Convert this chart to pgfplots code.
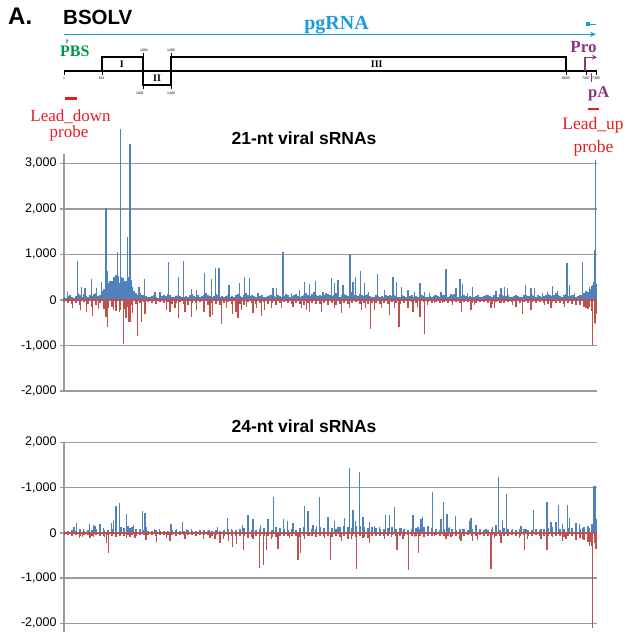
\documentclass[border=0pt]{standalone}
\usepackage{pgfplots}
\pgfplotsset{compat=1.18}
\usepackage{pgfplotstable}
\usepackage{fontspec}
\setmainfont{Liberation Serif}
\setsansfont{Liberation Sans}
\usetikzlibrary{arrows.meta}
\definecolor{sblue}{RGB}{79,129,189}
\definecolor{sred}{RGB}{192,80,77}
\definecolor{gridc}{RGB}{155,155,155}
\definecolor{pgblue}{RGB}{27,154,222}
\definecolor{pbsgreen}{RGB}{0,150,70}
\definecolor{propurple}{RGB}{140,55,125}
\definecolor{probered}{RGB}{230,30,36}

% background levels, chart 1 (21-nt), blue every 2 bins
\pgfplotstableread[row sep=\\]{y\\
60\\40\\90\\120\\70\\50\\80\\150\\100\\60\\130\\90\\70\\110\\80\\140\\160\\90\\120\\200\\
250\\300\\380\\420\\350\\500\\450\\520\\380\\460\\300\\420\\500\\350\\280\\200\\160\\120\\150\\100\\
120\\90\\70\\60\\80\\100\\70\\50\\60\\90\\110\\80\\130\\100\\70\\60\\90\\120\\80\\60\\
70\\90\\60\\110\\140\\80\\60\\100\\70\\90\\120\\150\\100\\80\\60\\90\\130\\110\\70\\90\\
60\\80\\110\\70\\90\\60\\100\\140\\90\\70\\120\\160\\100\\80\\110\\90\\70\\60\\80\\100\\
70\\60\\80\\100\\120\\90\\70\\100\\80\\60\\90\\130\\110\\70\\80\\100\\140\\90\\60\\80\\
100\\150\\120\\90\\130\\170\\110\\80\\100\\90\\120\\160\\130\\100\\80\\110\\150\\90\\70\\100\\
130\\110\\90\\150\\180\\120\\100\\90\\140\\110\\80\\100\\130\\90\\60\\70\\100\\80\\60\\90\\
70\\100\\90\\110\\80\\120\\90\\70\\60\\100\\80\\70\\60\\90\\110\\70\\80\\60\\90\\100\\
80\\60\\70\\90\\60\\80\\110\\90\\70\\100\\120\\80\\60\\90\\110\\130\\90\\70\\60\\80\\
100\\80\\60\\90\\70\\60\\80\\100\\70\\60\\90\\120\\110\\80\\60\\100\\90\\70\\130\\100\\
80\\90\\110\\70\\60\\80\\100\\90\\70\\60\\100\\120\\90\\80\\110\\90\\70\\100\\80\\60\\
90\\110\\130\\100\\80\\120\\150\\110\\90\\70\\100\\130\\90\\80\\110\\100\\70\\90\\120\\100\\
150\\200\\180\\250\\300\\400\\350\\
}\bgAblue
% chart 1 red, every 4 bins
\pgfplotstableread[row sep=\\]{y\\
-40\\-60\\-90\\-70\\-120\\-50\\-80\\-150\\-100\\-70\\-200\\-180\\-150\\-250\\-220\\-200\\-160\\-120\\-90\\-60\\
-50\\-40\\-60\\-80\\-50\\-70\\-40\\-90\\-60\\-50\\-80\\-100\\-60\\-70\\-50\\-90\\-110\\-60\\-80\\-100\\
-70\\-50\\-90\\-60\\-80\\-100\\-50\\-70\\-90\\-60\\-40\\-80\\-60\\-100\\-70\\-50\\-60\\-90\\-70\\-80\\
-100\\-70\\-60\\-80\\-90\\-60\\-50\\-70\\-100\\-80\\-60\\-90\\-70\\-50\\-80\\-60\\-90\\-70\\-60\\-80\\
-60\\-80\\-50\\-70\\-90\\-60\\-40\\-50\\-70\\-60\\-50\\-40\\-60\\-50\\-70\\-40\\-60\\-50\\-40\\-60\\
-50\\-40\\-60\\-70\\-50\\-40\\-60\\-80\\-50\\-70\\-60\\-40\\-50\\-80\\-60\\-50\\-70\\-40\\-60\\-50\\
-60\\-80\\-50\\-70\\-60\\-90\\-70\\-80\\-100\\-120\\-150\\-200\\-250\\-300\\
}\bgAred
% chart 2 (24-nt) blue, every 4 bins
\pgfplotstableread[row sep=\\]{y\\
40\\30\\60\\50\\80\\40\\70\\60\\90\\50\\70\\60\\80\\100\\120\\100\\150\\120\\90\\80\\
60\\50\\40\\60\\50\\40\\50\\70\\60\\40\\50\\60\\40\\50\\60\\70\\40\\50\\60\\40\\
60\\80\\70\\60\\90\\100\\80\\70\\60\\80\\100\\90\\70\\120\\100\\80\\60\\90\\70\\110\\
130\\100\\90\\80\\120\\110\\90\\100\\80\\120\\150\\130\\110\\140\\160\\120\\100\\130\\110\\90\\
80\\100\\120\\90\\110\\80\\70\\90\\100\\80\\120\\140\\100\\80\\70\\90\\100\\80\\70\\90\\
80\\70\\90\\100\\80\\60\\70\\90\\80\\70\\100\\80\\60\\70\\90\\80\\70\\60\\80\\70\\
90\\100\\120\\100\\80\\90\\110\\100\\80\\90\\120\\150\\200\\250\\
}\bgBblue
% chart 2 red, every 4 bins
\pgfplotstableread[row sep=\\]{y\\
-40\\-50\\-60\\-40\\-70\\-50\\-40\\-60\\-50\\-70\\-60\\-40\\-80\\-100\\-70\\-60\\-50\\-40\\-60\\-50\\
-40\\-50\\-40\\-60\\-50\\-40\\-50\\-40\\-60\\-50\\-40\\-50\\-40\\-60\\-40\\-50\\-40\\-60\\-50\\-40\\
-60\\-50\\-70\\-60\\-80\\-60\\-70\\-90\\-60\\-80\\-70\\-60\\-90\\-100\\-70\\-60\\-80\\-70\\-60\\-90\\
-80\\-70\\-60\\-90\\-80\\-60\\-70\\-100\\-80\\-90\\-70\\-60\\-80\\-100\\-70\\-90\\-110\\-80\\-60\\-70\\
-60\\-70\\-50\\-60\\-80\\-60\\-50\\-70\\-60\\-80\\-90\\-70\\-60\\-50\\-70\\-60\\-80\\-70\\-60\\-50\\
-60\\-50\\-70\\-60\\-50\\-60\\-70\\-50\\-60\\-70\\-80\\-60\\-50\\-70\\-60\\-50\\-70\\-60\\-50\\-70\\
-60\\-70\\-80\\-60\\-70\\-90\\-80\\-70\\-100\\-120\\-150\\-200\\-300\\-350\\
}\bgBred

\pgfplotsset{srna/.style={
  scale only axis, width=533pt, xmin=0, xmax=533,
  hide x axis, axis y line*=left,
  y axis line style={gridc, line width=1.4pt},
  ymajorgrids, grid style={gridc, line width=1.4pt},
  tick align=outside, major tick length=4pt,
  ytick style={gridc, line width=1.4pt},
  yticklabel style={font=\sffamily\fontsize{12.5}{15}\selectfont, text=black},
  xtick=\empty}}

\begin{document}
\begin{tikzpicture}
\path[use as bounding box] (0,0) rectangle (631pt,634pt);

% ---------- 21-nt chart
\begin{axis}[srna, at={(64pt,479.9pt)}, anchor=north west, height=237.1pt,
  ymin=-2000, ymax=3200, clip=false,
  ytick={-2000,-1000,0,1000,2000,3000},
  yticklabels={-2{,}000,-1{,}000,0,1{,}000,2{,}000,3{,}000}]
\addplot[ycomb, sblue, line width=1.5pt, no markers] table[x expr=\coordindex*2, y=y]{\bgAblue};
\addplot[ycomb, sred, line width=1.5pt, no markers] table[x expr=\coordindex*4, y=y]{\bgAred};
\addplot[ycomb, sblue, line width=1.3pt, no markers] coordinates {
(3.3,183)(13.3,855)(17.7,290)(21,270)(27.7,450)(32.7,255)(37.7,390)(42,2025)(43.3,640)(46,350)(48,420)(50,480)(52,550)(53.3,1045)(54.3,510)(56.3,3750)(57.7,510)(59,480)(61,420)(63.7,1390)(66,3420)(67.7,440)(75,290)(80.3,450)(91,170)(96,180)(104.7,825)(114.3,500)(119.3,855)(127.7,240)(132.7,220)(140.3,585)(147.7,460)(151.7,710)(155,710)(165,330)(171.7,110)
(175.7,365)(180.7,510)(185.7,490)(194,146)(209,256)(212.3,270)(219,1045)(227.3,146)(235.7,220)(240.7,400)(245.7,345)(251.3,425)(259,183)(267.3,475)(270.7,365)(274,440)(279,330)(286,1000)(289,400)(291.3,510)(296.7,645)(300.7,365)(304.7,183)(313.3,565)(320.7,220)(329,510)(332.3,400)(337.3,290)(344,220)(350.7,183)
(356,365)(360.3,183)(365.3,146)(370.3,110)(377,183)(382,670)(387,124)(392,255)(396,450)(398.7,345)(403.7,146)(408.7,290)(413.7,110)(422,73)(432,205)(437,255)(440.3,290)(443.7,270)(452,110)(461.3,330)(467,256)(470.3,256)(478.7,146)(483.7,183)(488.7,315)(493.7,197)(503,805)(505.3,330)(510.3,146)(518.7,840)(525.3,292)(528.7,330)(530.3,1095)(531.3,3070)};
\addplot[ycomb, sred, line width=1.3pt, no markers] coordinates {
(8.7,-170)(16.7,-220)(22.7,-255)(28.7,-345)(34.3,-200)(42,-365)(43.3,-585)(49.3,-220)(55.3,-255)(59.3,-970)(62,-400)(64.3,-475)(66,-475)(68.7,-290)(73.3,-780)(77.7,-475)(81,-310)(102.7,-220)(106,-255)(111,-170)(114.3,-400)(121,-255)(127.7,-365)(132.7,-220)(140,-255)(146,-365)(148.7,-330)(157.7,-525)(162.7,-183)(168.7,-315)(172,-255)(177.7,-220)
(174,-400)(182.3,-146)(189,-290)(192.3,-183)(197.3,-345)(200.7,-220)(207.3,-183)(217.3,-183)(229,-146)(237.3,-183)(242.3,-220)(245.7,-255)(257.3,-255)(264,-110)(270.7,-170)(277.3,-290)(285.7,-170)(297.3,-220)(301.7,-170)(306.3,-635)(310.7,-220)(317.3,-183)(325.7,-330)(330.7,-183)(335,-585)(344,-170)(349,-255)(355.7,-255)
(353.7,-146)(356,-365)(360.3,-750)(363.7,-110)(370.3,-73)(378.7,-60)(388.7,-110)(397.7,-270)(407,-220)(410.3,-110)(427,-170)(430.3,-170)(437,-73)(448.7,-110)(452,-146)(458.7,-305)(467,-220)(480.3,-110)(487,-183)(500.3,-146)(515.3,-73)(522,-183)(525.3,-146)(528.7,-985)(530.3,-510)(531.3,-530)};
\addplot[sred, line width=1.8pt, no markers] coordinates {(0,0)(533,0)};
\end{axis}

% ---------- 24-nt chart
\begin{axis}[srna, at={(64pt,191.7pt)}, anchor=north west, height=190.1pt,
  ymin=-2200, ymax=2000,
  ytick={-2000,-1000,0,1000,2000},
  yticklabels={-2{,}000,-1{,}000,0,-1{,}000,2{,}000}]
\addplot[ycomb, sblue, line width=1.7pt, no markers] table[x expr=\coordindex*4, y=y]{\bgBblue};
\addplot[ycomb, sred, line width=1.5pt, no markers] table[x expr=\coordindex*4, y=y]{\bgBred};
\addplot[ycomb, sblue, line width=1.3pt, no markers] coordinates {
(10,130)(12.7,220)(19.3,74)(25.3,185)(29.3,162)(31,147)(36,205)(39.3,110)(47.7,221)(49.3,258)(52,590)(55.3,650)(57.7,133)(62.7,405)(66,110)(69.3,162)(78.7,480)(81,430)(82.7,133)(90.3,88)(95.3,88)(107,205)(112.7,74)(118.3,250)(122.7,88)(127.7,74)(139.3,60)(145,60)(153.7,133)(163.7,325)(167.7,88)(178.3,162)
(184,385)(189,295)(196.7,162)(204,295)(209.7,795)(215.7,110)(219.7,295)(223.3,258)(229,221)(235.7,88)(240.7,590)(244,480)(249,162)(252.3,147)(255.7,795)(264,355)(270.7,258)(274,133)(280.7,330)(285.7,1435)(289,515)(291.7,258)(295.7,1350)(299,355)(305.7,236)(310.7,147)(315.7,133)(321.3,385)(325.7,385)(330.7,570)(337.3,110)(340.7,88)(349,385)(354,133)
(357,315)(358.7,354)(368.7,900)(377,295)(379.7,680)(383,405)(385.3,133)(391.3,370)(398.7,88)(405.3,258)(407,330)(412,162)(422,74)(428.7,133)(432,162)(434.3,1230)(438.7,273)(442.7,860)(448.7,74)(457,147)(462,74)(469.7,495)(477,88)(483,685)(487,236)(492,236)(494.7,610)(498.7,184)(503.7,610)(505.3,330)(512,221)(515.3,184)(518.7,110)(525.3,110)(529.3,1045)(531,1030)(532,295)};
\addplot[ycomb, sred, line width=1.3pt, no markers] coordinates {
(15.3,-110)(18.3,-88)(26,-110)(29.3,-88)(35.3,-74)(40.3,-88)(42.7,-220)(44.3,-455)(62.7,-110)(66,-88)(71,-110)(82,-160)(92.7,-200)(102.7,-110)(106,-170)(121,-133)(139.3,-133)(146,-110)(151,-133)(156,-235)(159.3,-147)(164.3,-184)(168.7,-310)(172.7,-258)(179.3,-385)
(184,-110)(189,-147)(195.7,-775)(199.7,-720)(202.3,-370)(207.3,-147)(214,-355)(225.7,-110)(234,-605)(236.3,-440)(240.7,-147)(245.7,-74)(260.7,-110)(266.7,-605)(272.3,-74)(277.3,-170)(284,-147)(287.3,-133)(292.7,-795)(299,-110)(305.7,-220)(320.7,-147)(327.3,-88)(333,-390)(339,-147)(344.7,-825)(350.7,-88)
(354.7,-440)(360.3,-88)(370.3,-74)(382,-147)(387,-88)(395.3,-147)(397,-170)(408.7,-185)(413.7,-162)(427,-810)(430.3,-110)(437,-220)(455.3,-110)(460.3,-385)(463.7,-147)(477,-147)(483,-370)(488.7,-88)(498.7,-170)(502,-133)(512,-162)(518.7,-147)(525.3,-295)(527,-206)(528.7,-2100)(530.3,-221)};
\addplot[sred, line width=1.8pt, no markers] coordinates {(0,0)(533,0)};
\end{axis}

% ---------- titles
\node[anchor=base, font=\sffamily\bfseries\fontsize{17.5}{20}\selectfont] at (304pt,489pt) {21-nt viral sRNAs};
\node[anchor=base, font=\sffamily\bfseries\fontsize{17.5}{20}\selectfont] at (304pt,201pt) {24-nt viral sRNAs};

% ---------- genome map
\node[anchor=base west, inner sep=0, font=\sffamily\bfseries\fontsize{24}{28}\selectfont] at (8pt,609pt) {A.};
\node[anchor=base west, inner sep=0, font=\sffamily\bfseries\fontsize{20.5}{24}\selectfont] at (63pt,609pt) {BSOLV};
\draw[pgblue, line width=1.1pt, -{Stealth[length=6pt,width=5pt]}] (64pt,599.7pt) -- (596pt,599.7pt);
\node[anchor=base, inner sep=0, text=pgblue, font=\bfseries\fontsize{20}{24}\selectfont] at (336.5pt,604.7pt) {pgRNA};
\fill[pgblue] (586pt,608pt) rectangle (590pt,611.5pt);
\draw[pgblue, line width=1pt] (590pt,609.7pt) -- (596pt,609.7pt);

\node[anchor=base west, inner sep=0, text=pbsgreen, font=\bfseries\fontsize{16}{19}\selectfont] at (60pt,577pt) {PBS};
\draw[pbsgreen, line width=0.8pt] (66.5pt,591pt) -- (67.5pt,594pt) -- (65.5pt,594pt);

\draw[black, line width=2pt] (64pt,563pt) -- (597pt,563pt);
\draw[black, line width=2pt] (101.7pt,563pt) rectangle (143.3pt,576.7pt);
\draw[black, line width=2pt] (143.3pt,563pt) rectangle (171pt,549pt);
\draw[black, line width=2pt] (171pt,563pt) rectangle (566pt,576.7pt);
\draw[black, line width=0.4pt] (143.3pt,576.7pt) -- (143.3pt,581pt) (171pt,576.7pt) -- (171pt,581pt)
  (143.3pt,549pt) -- (143.3pt,545pt) (171pt,549pt) -- (171pt,545pt)
  (64pt,563pt) -- (64pt,559pt) (101.7pt,563pt) -- (101.7pt,559pt) (566pt,563pt) -- (566pt,559pt)
  (586pt,563pt) -- (586pt,559pt) (596.5pt,563pt) -- (596.5pt,559pt);
\node[inner sep=0, font=\bfseries\fontsize{10}{12}\selectfont] at (121.7pt,569.5pt) {I};
\node[inner sep=0, font=\bfseries\fontsize{10}{12}\selectfont] at (157pt,555.5pt) {II};
\node[inner sep=0, font=\bfseries\fontsize{10}{12}\selectfont] at (376.7pt,570pt) {III};
\begin{scope}[every node/.style={inner sep=0, font=\sffamily\fontsize{3.5}{4}\selectfont}]
\node at (64pt,555.5pt) {1};
\node at (101.7pt,555.5pt) {521};
\node at (144pt,583.5pt) {1004};
\node at (171pt,583.5pt) {1400};
\node at (140pt,541pt) {1001};
\node at (171pt,541pt) {1400};
\node at (566pt,555.5pt) {6653};
\node at (586pt,555.5pt) {7267};
\node at (596pt,555.5pt) {7393};
\end{scope}

\node[anchor=base, inner sep=0, text=propurple, font=\bfseries\fontsize{17}{20}\selectfont] at (583.5pt,581pt) {Pro};
\draw[propurple, line width=1.1pt, -{Stealth[length=5pt,width=5pt]}] (585pt,563pt) -- (585pt,576.7pt) -- (597pt,576.7pt);
\draw[propurple, line width=1pt] (591pt,561pt) -- (591pt,552pt);
\node[anchor=base west, inner sep=0, text=propurple, font=\bfseries\fontsize{16.5}{19}\selectfont] at (588pt,536pt) {pA};

\draw[probered, line width=2.5pt] (65pt,535.7pt) -- (77pt,535.7pt);
\draw[probered, line width=2.5pt] (588pt,525pt) -- (599pt,525pt);
\node[anchor=base, inner sep=0, text=probered, font=\fontsize{17}{20}\selectfont] at (70.5pt,512.5pt) {Lead\_down};
\node[anchor=base, inner sep=0, text=probered, font=\fontsize{17}{20}\selectfont] at (69pt,496.7pt) {probe};
\node[anchor=base, inner sep=0, text=probered, font=\fontsize{17.5}{20}\selectfont] at (593pt,504pt) {Lead\_up};
\node[anchor=base, inner sep=0, text=probered, font=\fontsize{17.5}{20}\selectfont] at (593.5pt,481.3pt) {probe};
\end{tikzpicture}
\end{document}
